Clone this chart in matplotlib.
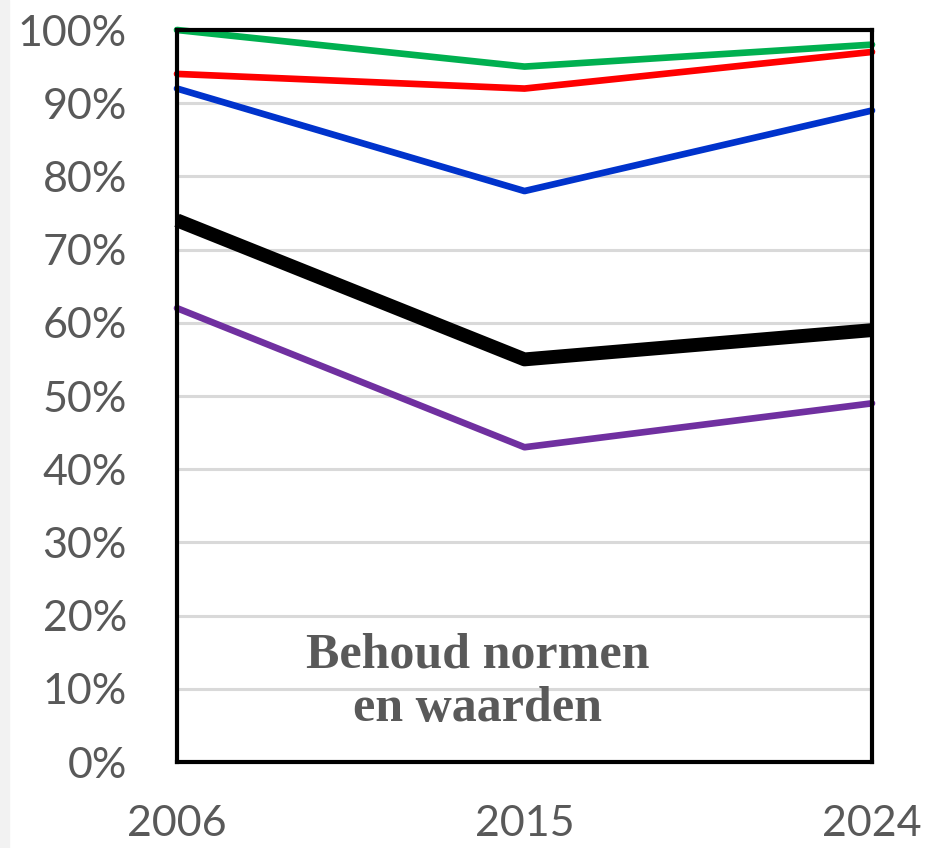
import numpy as np
import matplotlib.pyplot as plt
from matplotlib.patches import Rectangle
from matplotlib.ticker import PercentFormatter

jaren = ['2006', '2015', '2024']
groen = [100, 95, 98]
rood = [94, 92, 97]
blauw = [92, 78, 89]
zwart = [74, 55, 59]
paars = [62, 43, 49]
yticks = [0, 10, 20, 30, 40, 50, 60, 70, 80, 90, 100]

fig = plt.figure(figsize=(9.26, 8.48), dpi=100)
fig.patches.append(Rectangle((0, 0), 9 / 926, 1, transform=fig.transFigure,
                             color='#f2f2f2', zorder=0))
ax = fig.add_axes([177 / 926, 1 - 762 / 848, 695 / 926, 732 / 848])

x = np.arange(len(jaren))
ax.plot(x, paars, color='#7030a0', lw=4.8, solid_capstyle='round', clip_on=False)
ax.plot(x, zwart, color='black', lw=10, solid_capstyle='butt', clip_on=False)
ax.plot(x, blauw, color='#0033cc', lw=4.8, solid_capstyle='round', clip_on=False)
ax.plot(x, rood, color='#ff0000', lw=4.8, solid_capstyle='round', clip_on=False)
ax.plot(x, groen, color='#00b050', lw=4.8, solid_capstyle='round', clip_on=False)

ax.set_xlim(0, 2)
ax.set_ylim(0, 100)
ax.set_xticks(x)
ax.set_xticklabels(jaren)
ax.set_yticks(yticks)
ax.yaxis.set_major_formatter(PercentFormatter(decimals=0))
ax.grid(axis='y', color='#d9d9d9', lw=2.2)
ax.set_axisbelow(True)
for s in ax.spines.values():
    s.set_linewidth(3)
    s.set_color('black')
ax.tick_params(length=0, labelsize=31, colors='#595959', labelfontfamily='Lato')
ax.tick_params(axis='y', pad=36)
ax.tick_params(axis='x', pad=31)

ax.text(0.433, 0.109, 'Behoud normen\nen waarden', transform=ax.transAxes,
        ha='center', va='center', fontsize=36, fontweight='bold',
        family='Liberation Serif', color='#595959', linespacing=1.22)

fig.savefig('out.png', dpi=100)
